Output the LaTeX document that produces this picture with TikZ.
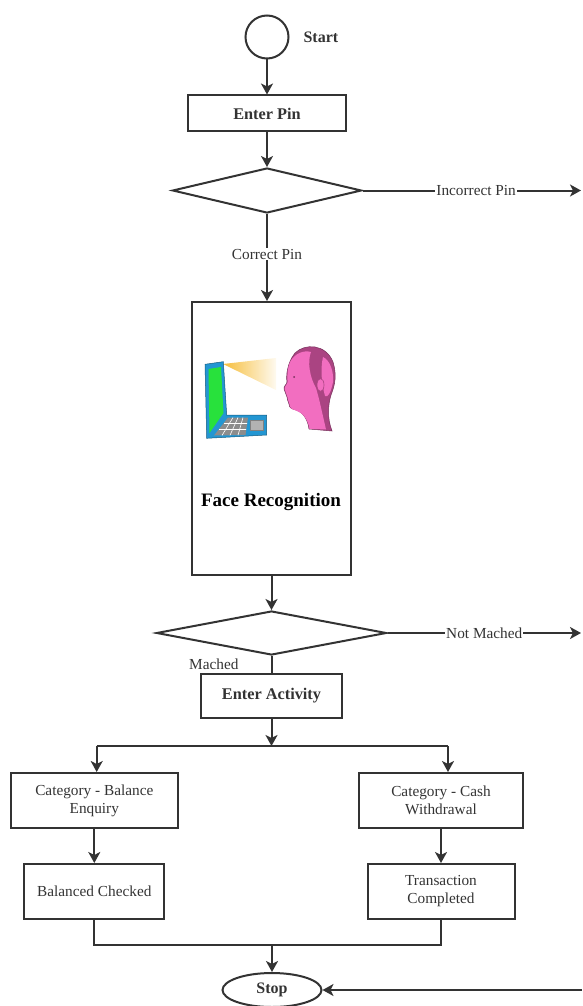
\documentclass[tikz,border=0pt]{standalone}
\usepackage{fontspec}
\setmainfont{Liberation Serif}
\usetikzlibrary{shapes.geometric,arrows.meta}

\definecolor{lapblue}{RGB}{35,150,210}
\definecolor{lapgreen}{RGB}{40,225,60}
\definecolor{beamy}{RGB}{246,190,60}
\definecolor{headdark}{RGB}{170,68,130}
\definecolor{headlight}{RGB}{242,110,192}

\tikzset{
  line/.style={line width=2pt, draw=black!80},
  arr/.style={line, -{Stealth[length=11pt,width=12pt,inset=3pt]}},
  box/.style={rectangle, draw=black!80, line width=2pt, inner sep=0pt, align=center,
    text=black!80, font=\fontsize{15.3}{18}\selectfont},
  bbox/.style={box, font=\fontsize{16.3}{19}\selectfont\bfseries},
  decide/.style={diamond, draw=black!80, line width=2pt, inner sep=0pt},
  lbl/.style={fill=white, inner sep=1pt, text=black!80, font=\fontsize{15.3}{18}\selectfont}
}

\begin{document}
\begin{tikzpicture}[x=1pt,y=-1pt]
  \useasboundingbox (0,0) rectangle (582,1006);

  % main column
  \node[circle, draw=black!80, line width=2pt, minimum size=43pt, inner sep=0pt] (start) at (267,37) {};
  \node[anchor=west, text=black!80, font=\fontsize{16}{19}\selectfont\bfseries] (starttxt) at (300,37) {Start};
  \node[bbox, minimum width=158pt, minimum height=36pt] (pin) at (267,113.5) {Enter Pin};
  \node[decide, minimum width=189pt, minimum height=45pt] (d1) at (267,190.5) {};
  \node[box, minimum width=159pt, minimum height=273pt] (face) at (271.5,438.5) {};
  \node[font=\fontsize{19}{22}\selectfont\bfseries] (facetxt) at (271,502) {Face Recognition};
  \node[decide, minimum width=230pt, minimum height=44pt] (d2) at (271.5,633) {};
  \node[bbox, minimum width=141pt, minimum height=44pt] (act) at (271.5,696) {Enter Activity};

  % the two categories
  \node[box, minimum width=167pt, minimum height=55pt] (c1) at (94.3,800.5) {Category - Balance\\Enquiry};
  \node[box, minimum width=164pt, minimum height=55pt] (c2) at (441,800.5) {Category - Cash\\Withdrawal};
  \node[box, minimum width=140pt, minimum height=55pt] (b1) at (94.3,891.5) {Balanced Checked};
  \node[box, minimum width=147pt, minimum height=55pt] (b2) at (441,891.5) {Transaction\\Completed};
  \node[ellipse, draw=black!80, line width=2pt, minimum width=99pt, minimum height=34pt, inner sep=0pt,
    text=black!80, font=\fontsize{16}{19}\selectfont\bfseries] (stop) at (272,990) {Stop};

  \coordinate (pinout) at (581,190.5);
  \coordinate (nmout) at (581,633);
  \coordinate (stopin) at (582,990);
  \coordinate (split) at (271.5,746);
  \coordinate (sl) at (96.7,746);
  \coordinate (sr) at (448,746);
  \coordinate (merge) at (272,945);

  % laptop and head
  \shade[left color=beamy, right color=beamy!8] (223,364) -- (276,358) -- (276,390) -- cycle;
  \filldraw[fill=lapblue, draw=lapblue!60!black, line width=0.5pt]
    (205,364.3) -- (223.3,361.7) -- (226.7,415) -- (266.7,415) -- (266.7,435) -- (206.7,438.3) -- cycle;
  \fill[lapgreen] (208.5,369) -- (221,367) -- (223.5,413) -- (209.5,433) -- cycle;
  \fill[black!45] (228,417.5) -- (248,417.5) -- (245.5,435) -- (214,435.5) -- cycle;
  \draw[white, line width=0.6pt] (224,423.5) -- (247,423.5) (219,429.5) -- (246,429.5)
    (233,417.5) -- (222,435.4) (238,417.5) -- (230,435.3) (243,417.5) -- (238,435.2);
  \filldraw[fill=black!30, draw=black!50, line width=0.4pt] (250,420) rectangle (263.3,430);

  \filldraw[fill=headdark, draw=headdark!70!black, line width=0.5pt]
    (295,353) .. controls (305,343) and (326,344) .. (333,362)
    .. controls (337,375) and (335,385) .. (331,395)
    .. controls (328,405) and (327,418) .. (332,431) -- (309,429)
    .. controls (308,420) and (303,412) .. (296,410)
    .. controls (292,409) and (289,408) .. (289,404)
    .. controls (287,401) and (288,399) .. (287,397)
    .. controls (285,394) and (286,392) .. (284,389)
    .. controls (283,387) and (287,384) .. (287,382)
    .. controls (286,376) and (287,363) .. (295,353) -- cycle;
  \fill[headlight] (290,362) .. controls (295,353) and (304,350) .. (311,352)
    .. controls (307,362) and (310,378) .. (316,388)
    .. controls (319,398) and (322,412) .. (326,429.5) -- (309.5,428.8)
    .. controls (308,420) and (303,412.5) .. (296,410.5)
    .. controls (292,409.5) and (289.5,408) .. (289.5,404)
    .. controls (287.5,401) and (288.5,399) .. (287.5,397)
    .. controls (285.5,394) and (286.5,392) .. (284.7,389)
    .. controls (284,387) and (287.6,384) .. (287.6,382)
    .. controls (287,376) and (287.5,368) .. (290,362) -- cycle;
  \fill[headlight] (323,357) .. controls (330,360) and (334,372) .. (333,382)
    .. controls (331,392) and (328,398) .. (325,396)
    .. controls (322,385) and (320,370) .. (323,357) -- cycle;
  \filldraw[fill=headlight, draw=headdark, line width=0.6pt] (320.5,385) ellipse (3.5pt and 6.5pt);
  \fill[headdark!70!black] (294,377) circle (1pt);

  % connectors
  \draw[arr] (start) -- (pin);
  \draw[arr] (pin) -- (d1);
  \draw[arr] (d1) -- node[lbl, pos=0.52] {Incorrect Pin} (pinout);
  \draw[arr] (d1.south) -- node[lbl, pos=0.46] {Correct Pin} (d1.south |- face.north);
  \draw[arr] (face) -- (d2);
  \draw[arr] (d2) -- node[lbl] {Not Mached} (nmout);
  \draw[line] (d2) -- node[lbl, fill=none, anchor=east, xshift=-31pt] {Mached} (act);
  \draw[arr] (act) -- (split);
  \draw[line] (sl) -- (sr);
  \draw[arr] (sl) -- (sl |- c1.north);
  \draw[arr] (sr) -- (sr |- c2.north);
  \draw[arr] (c1) -- (b1);
  \draw[arr] (c2) -- (b2);
  \draw[line] (b1.south) |- (merge) -| (b2.south);
  \draw[arr] (merge) -- (stop);
  \draw[arr] (stopin) -- (stop);
\end{tikzpicture}
\end{document}
